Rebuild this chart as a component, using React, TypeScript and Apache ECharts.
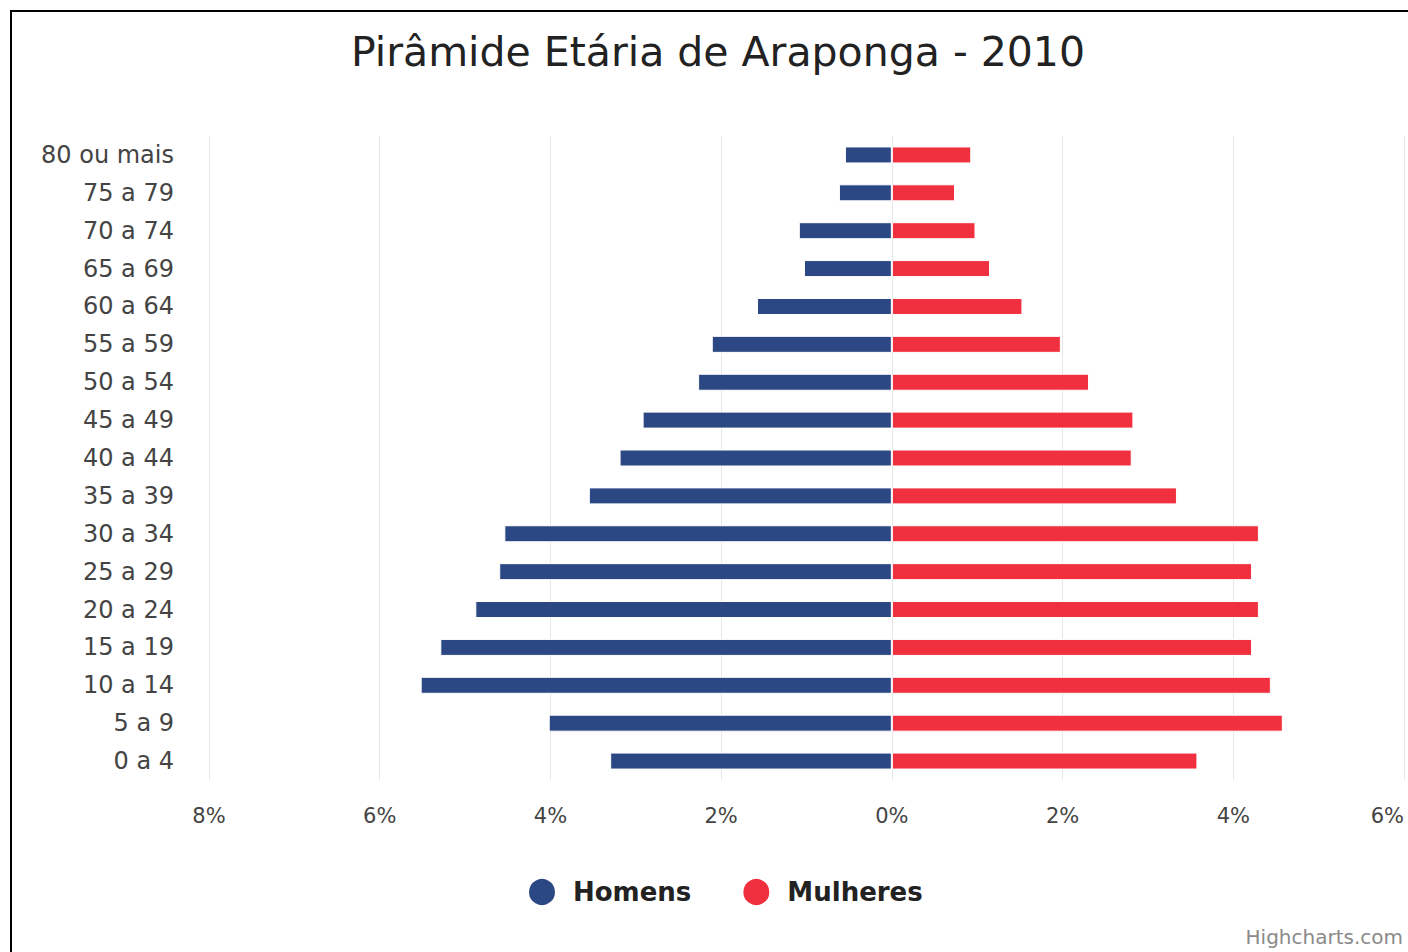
import React, { useEffect, useRef } from "react";
import * as echarts from "echarts";

const categories = [
  "0 a 4", "5 a 9", "10 a 14", "15 a 19", "20 a 24", "25 a 29", "30 a 34",
  "35 a 39", "40 a 44", "45 a 49", "50 a 54", "55 a 59", "60 a 64",
  "65 a 69", "70 a 74", "75 a 79", "80 ou mais",
];
const homens = [3.3, 4.02, 5.52, 5.29, 4.88, 4.6, 4.54, 3.55, 3.19, 2.92, 2.27, 2.11, 1.58, 1.03, 1.09, 0.62, 0.55];
const mulheres = [3.58, 4.58, 4.44, 4.22, 4.3, 4.22, 4.3, 3.34, 2.81, 2.83, 2.31, 1.98, 1.53, 1.15, 0.98, 0.74, 0.93];
const xTicks = { min: -8, max: 6, interval: 2 };
const titleText = "Pirâmide Etária de Araponga - 2010";
const FONT = "'DejaVu Sans', sans-serif";

export default function App() {
  const ref = useRef<HTMLDivElement>(null);
  useEffect(() => {
    if (!ref.current) return;
    const chart = echarts.init(ref.current, undefined, { renderer: "svg" });
    chart.setOption({
      animation: false,
      backgroundColor: "#ffffff",
      textStyle: { fontFamily: FONT },
      graphic: [
        {
          type: "rect",
          shape: { x: 11, y: 11, width: 1500, height: 1100 },
          style: { fill: "none", stroke: "#000000", lineWidth: 2 },
          silent: true,
          z: 100,
        },
        {
          type: "text",
          x: 718,
          y: 52,
          style: {
            text: titleText,
            fontFamily: FONT,
            fontSize: 41,
            fill: "#222222",
            textAlign: "center",
            textVerticalAlign: "middle",
          },
        },
        {
          type: "text",
          x: 1403,
          y: 937,
          style: {
            text: "Highcharts.com",
            fontFamily: FONT,
            fontSize: 20,
            fill: "#8a8a8a",
            textAlign: "right",
            textVerticalAlign: "middle",
          },
        },
      ],
      legend: {
        left: 522,
        top: 872,
        icon: "circle",
        itemWidth: 28,
        itemHeight: 28,
        itemGap: 50,
        textStyle: {
          fontFamily: FONT,
          fontSize: 26,
          fontWeight: "bold",
          color: "#222222",
          padding: [0, 0, 0, 12],
        },
        data: ["Homens", "Mulheres"],
      },
      grid: { left: 209, right: 4, top: 136, bottom: 172, containLabel: false },
      xAxis: {
        type: "value",
        min: xTicks.min,
        max: xTicks.max,
        interval: xTicks.interval,
        axisLine: { show: false },
        axisTick: { show: false },
        splitLine: { show: true, lineStyle: { color: "#e6e6e6", width: 1 } },
        axisLabel: {
          fontFamily: FONT,
          fontSize: 21,
          color: "#444444",
          margin: 25,
          alignMaxLabel: "right",
          formatter: (v: number) => `${Math.abs(v)}%`,
        },
      },
      yAxis: {
        type: "category",
        data: categories,
        axisLine: { show: false },
        axisTick: { show: false },
        splitLine: { show: false },
        axisLabel: {
          fontFamily: FONT,
          fontSize: 24,
          color: "#444444",
          margin: 35,
        },
      },
      series: [
        {
          name: "Homens",
          type: "bar",
          stack: "total",
          barWidth: 17,
          data: homens.map((v) => -v),
          itemStyle: { color: "#2c4884", borderColor: "#ffffff", borderWidth: 1 },
        },
        {
          name: "Mulheres",
          type: "bar",
          stack: "total",
          barWidth: 17,
          data: mulheres,
          itemStyle: { color: "#f0303e", borderColor: "#ffffff", borderWidth: 1 },
        },
      ],
    });
    return () => chart.dispose();
  }, []);
  return (
    <div
      ref={ref}
      style={{ position: "fixed", left: 0, top: 0, width: 1408, height: 952 }}
    />
  );
}
